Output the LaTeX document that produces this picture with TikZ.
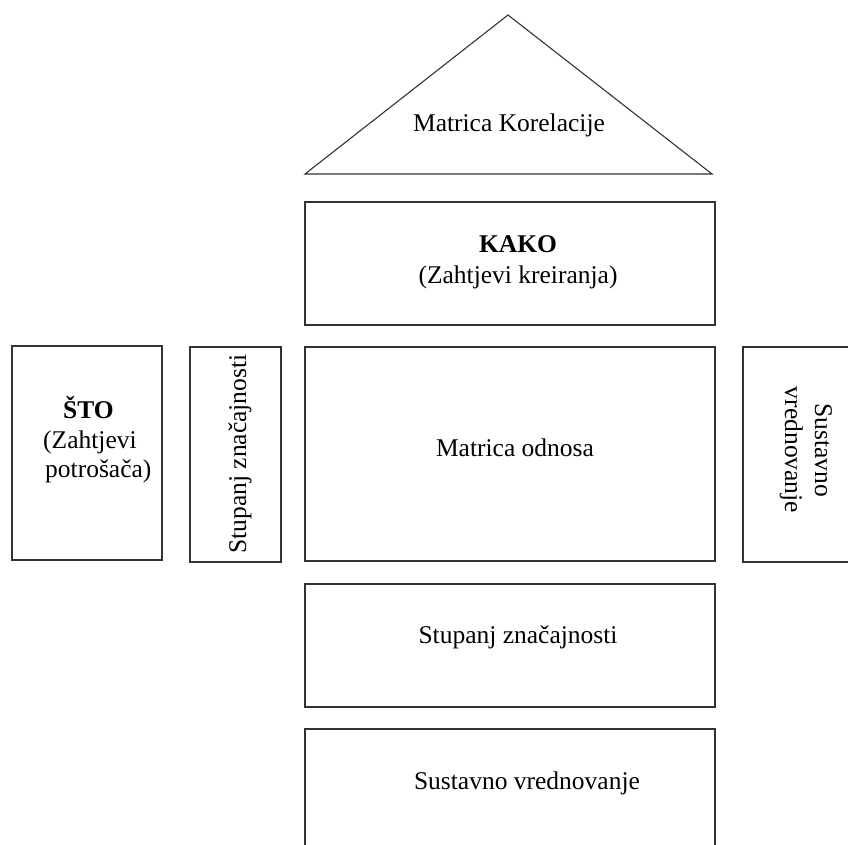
\documentclass[tikz,border=0pt]{standalone}
\usepackage{fontspec}
\setmainfont{Liberation Serif}
\begin{document}
\begin{tikzpicture}[x=1pt,y=-1pt,
  box/.style={draw=black!80, line width=1.1pt, rectangle, inner sep=0pt, minimum width=#1},
  lbl/.style={inner sep=0pt, anchor=base, font=\fontsize{25.5}{30}\selectfont},
  lblw/.style={inner sep=0pt, anchor=base west, font=\fontsize{25.5}{30}\selectfont},
  edge/.style={draw=black!80, line width=1.1pt, line join=miter}]
\useasboundingbox (0,0) rectangle (848,844);
\clip (0,0) rectangle (848,844);
% roof
\coordinate (tl) at (305,174);
\coordinate (ta) at (508,15);
\coordinate (tr) at (712,174);
\draw[edge] (tl) -- (ta) -- (tr) -- cycle;
\node[lbl] (korel) at (509,131) {Matrica Korelacije};
% boxes
\node[box=410pt, minimum height=123pt] (kako) at (510,263.5) {};
\node[box=150pt, minimum height=214pt] (sto) at (87,453) {};
\node[box=91pt, minimum height=215pt] (stupv) at (235.5,454.5) {};
\node[box=410pt, minimum height=214pt] (odnos) at (510,454) {};
\node[box=117pt, minimum height=215pt] (sustv) at (801.5,454.5) {};
\node[box=410pt, minimum height=123pt] (stup) at (510,645.5) {};
\node[box=410pt, minimum height=123pt] (sust) at (510,790.5) {};
% texts
\node[lbl] (kakoA) at (518,252) {\textbf{KAKO}};
\node[lbl] (kakoB) at (518,283) {(Zahtjevi kreiranja)};
\node[lblw] (stoA) at (63,418) {\textbf{ŠTO}};
\node[lblw] (stoB) at (43,448) {(Zahtjevi};
\node[lblw] (stoC) at (45,477) {potrošača)};
\node[lbl, rotate=90] (stupvT) at (246,454) {Stupanj značajnosti};
\node[lbl] (odnosT) at (515,456) {Matrica odnosa};
\node[lbl, rotate=-90] (sustvA) at (815,450) {Sustavno};
\node[lbl, rotate=-90] (sustvB) at (785,450) {vrednovanje};
\node[lbl] (stupT) at (518,643) {Stupanj značajnosti};
\node[lbl] (sustT) at (527,789) {Sustavno vrednovanje};
\end{tikzpicture}
\end{document}
